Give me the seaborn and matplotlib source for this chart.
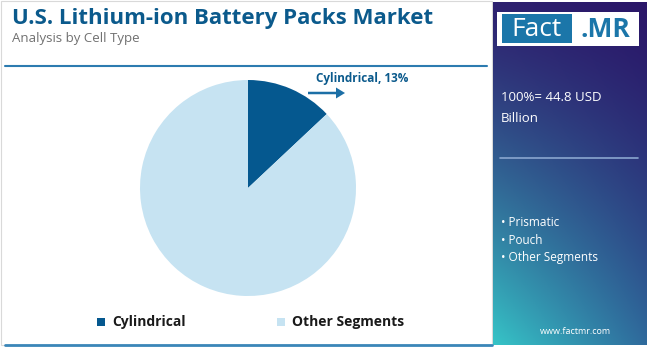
import numpy as np
import matplotlib
matplotlib.use("Agg")
import matplotlib.pyplot as plt
import seaborn as sns
from matplotlib.patches import Rectangle, FancyArrow

# Market share by cell type (percent)
segments = ["Cylindrical", "Other Segments"]
shares = [13, 87]
colors = ["#05588f", "#c6e3f2"]
total_label = "100%= 44.8 USD\nBillion"
side_items = ["Prismatic", "Pouch", "Other Segments"]

sns.set_theme(style="white")
plt.rcParams["font.family"] = ["Open Sans", "DejaVu Sans"]

W, H = 650, 347
fig = plt.figure(figsize=(W / 100, H / 100), dpi=100)

# Full-figure canvas in pixel coordinates
bg = fig.add_axes([0, 0, 1, 1])
bg.set_xlim(0, W)
bg.set_ylim(H, 0)
bg.axis("off")

# outer frame of the white area
bg.add_patch(Rectangle((1, 1), 491, 344, fill=False, ec="#d9d9d9", lw=0.8))

bg.text(12, 18, "U.S. Lithium-ion Battery Packs Market", fontsize=16,
        fontweight="bold", color="#0b5a8c", va="center", ha="left")
bg.text(12, 38, "Analysis by Cell Type", fontsize=9.5, color="#707070",
        va="center", ha="left")
bg.plot([5, 487], [66, 66], color="#2c7bb0", lw=1.5)
bg.plot([5, 492], [345, 345], color="#3a86b8", lw=2)

# Right side panel with diagonal gradient
tl = np.array([0x2e, 0x22, 0x70]) / 255
tr = np.array([0x2a, 0x16, 0x68]) / 255
bl = np.array([0x36, 0xc4, 0xc7]) / 255
br = np.array([0x2f, 0x6a, 0x9c]) / 255
ny, nx = 200, 100
yy, xx = np.meshgrid(np.linspace(0, 1, ny), np.linspace(0, 1, nx), indexing="ij")
yy = yy ** 1.3
grad = ((1 - xx)[..., None] * (1 - yy)[..., None] * tl
        + xx[..., None] * (1 - yy)[..., None] * tr
        + (1 - xx)[..., None] * yy[..., None] * bl
        + xx[..., None] * yy[..., None] * br)
bg.imshow(grad, extent=(493, 647, 345, 2), aspect="auto", zorder=1)

# Logo
bg.add_patch(Rectangle((497, 12), 142, 34, fc="white", ec="none", zorder=2))
bg.add_patch(Rectangle((502, 14), 70, 29, fc="#1b76a9", ec="none", zorder=3))
bg.text(537, 29.5, "Fact", fontsize=19, color="white", ha="center",
        va="center", zorder=4)
bg.text(605, 29.5, ".MR", fontsize=19, color="#1b76a9", fontweight="bold",
        ha="center", va="center", zorder=4)

bg.text(501, 108, total_label, fontsize=9.5, color="white", ha="left",
        va="center", linespacing=1.75, zorder=4)
bg.plot([500, 638], [158, 158], color="#8aa6cf", lw=1.2, zorder=4)
for i, item in enumerate(side_items):
    bg.text(501, 222 + i * 18, "\u2022 " + item, fontsize=8.5, color="white",
            ha="left", va="center", zorder=4)
bg.text(575, 331, "www.factmr.com", fontsize=6.5, color="white",
        ha="center", va="center", zorder=4)

# Legend
for x0, name, c in zip([97, 277], segments, colors):
    bg.add_patch(Rectangle((x0, 318), 8, 8, fc=c, ec="none"))
    bg.text(x0 + 15, 322, name, fontsize=10, fontweight="bold",
            color="#1a1a1a", ha="left", va="center")

# Pie
cx, cy, r = 248, 188, 108
pax = fig.add_axes([(cx - r) / W, (H - cy - r) / H, 2 * r / W, 2 * r / H])
pax.pie(shares, colors=colors, startangle=90, counterclock=False,
        radius=1, wedgeprops=dict(linewidth=0))
pax.set_xlim(-1, 1)
pax.set_ylim(-1, 1)
pax.set_aspect("equal")
pax.axis("off")

# Callout
bg.text(316, 78, f"{segments[0]}, {shares[0]}%", fontsize=8.5,
        fontweight="bold", color="#0b5a8c", ha="left", va="center")
bg.add_patch(FancyArrow(308, 93, 28, 0, width=2.5, head_width=11,
                        head_length=9, color="#1c6fa6", lw=0))

fig.savefig("out.png", dpi=100)
